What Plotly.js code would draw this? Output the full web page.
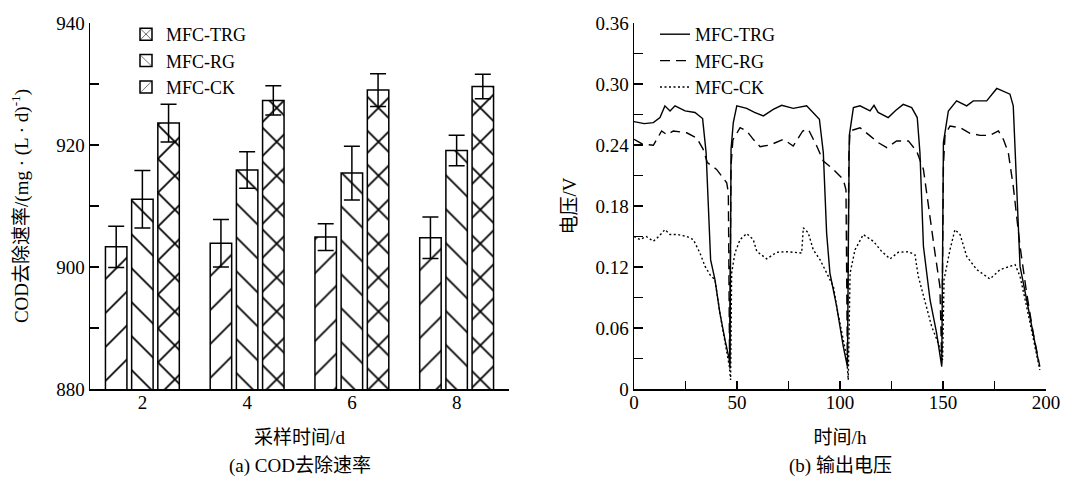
<!DOCTYPE html>
<html>
<head>
<meta charset="utf-8">
<script src="https://cdn.plot.ly/plotly-3.0.1.min.js"></script>
<style>html,body{margin:0;padding:0;background:#fff;}#chart{width:1070px;height:480px;}</style>
</head>
<body>
<div id="chart"></div>
<script>
// ---- Panel (a): COD removal rate ----
const days = [2, 4, 6, 8];
const seriesNames = ['MFC-CK', 'MFC-RG', 'MFC-TRG'];
const codCK  = [903.3, 903.9, 904.9, 904.8];
const codRG  = [911.1, 915.9, 915.4, 919.1];
const codTRG = [923.6, 927.3, 929.0, 929.6];
const errCK  = [3.4, 3.9, 2.2, 3.4];
const errRG  = [4.7, 3.0, 4.4, 2.5];
const errTRG = [3.1, 2.4, 2.7, 2.0];

// ---- Panel (b): output voltage ----
const tTRG = [0, 5, 9.4, 12.6, 15, 17.5, 19.9, 24.8, 29.6, 33.3, 35, 36.1, 37.2, 39.3, 41.7, 44.2, 46.3, 46.6, 47.1, 48.2,
  49.9, 54.7, 58.5, 62.8, 67.6, 71.7, 77.3, 83.8, 87, 90, 91.9, 93.5, 95.1, 98.4, 101.6, 103.6, 104.5, 106.5, 109.7, 114.6,
  116.5, 118.5, 123.4, 127, 130.7, 134.8, 137.5, 138.8, 140.5, 143.7, 146.9, 149.4, 150.2, 152.6, 156.6, 159, 161.5, 164.7, 171.2, 176.1,
  182.5, 184.1, 185.8, 187.4, 190.6, 193.8, 196.3];
const vTRG = [0.263, 0.261, 0.262, 0.267, 0.2785, 0.2735, 0.2785, 0.2735, 0.272, 0.266, 0.2325, 0.186, 0.127, 0.1075, 0.0747, 0.048, 0.0286, 0.020, 0.2357, 0.262,
  0.2785, 0.276, 0.272, 0.2686, 0.275, 0.279, 0.276, 0.2785, 0.272, 0.2653, 0.2325, 0.1536, 0.114, 0.081, 0.0417, 0.022, 0.249, 0.2768, 0.2785, 0.2735,
  0.279, 0.272, 0.267, 0.274, 0.280, 0.2768, 0.267, 0.2325, 0.1404, 0.0878, 0.055, 0.022, 0.2423, 0.2735, 0.2834, 0.281, 0.2785, 0.2834, 0.2834, 0.2956,
  0.29, 0.2785, 0.193, 0.1206, 0.0878, 0.055, 0.028];

const tRG = [0, 4, 9.4, 13.4, 16, 19.1, 25.6, 30.4, 33.6, 35.6, 40.1, 45, 45.8, 46.4, 47.1, 48, 51.5, 54.7, 57.9, 61.2,
  66, 72.5, 77.3, 81.9, 84.6, 88.7, 91.9, 96.8, 101.6, 102.9, 103.6, 104.3, 104.9, 109.7, 114.6, 118.6, 122.7, 127.5, 133.2, 137.2,
  140.5, 143.7, 146.1, 148.5, 149.4, 150.2, 151, 153.4, 158.3, 163.1, 168, 172.8, 176.9, 179.3, 181.7, 184.1, 187.4, 190.6, 193.8, 197];
const vRG = [0.2456, 0.241, 0.2397, 0.2538, 0.250, 0.2538, 0.252, 0.247, 0.2357, 0.2226, 0.216, 0.2029, 0.193, 0.025, 0.22, 0.245, 0.257, 0.2538, 0.2456, 0.2384,
  0.24, 0.2456, 0.239, 0.2538, 0.2555, 0.239, 0.2242, 0.216, 0.206, 0.196, 0.025, 0.23, 0.2538, 0.257, 0.249, 0.2423, 0.2374, 0.244, 0.244, 0.234,
  0.216, 0.1667, 0.1338, 0.1009, 0.025, 0.22, 0.25, 0.2587, 0.257, 0.2515, 0.2495, 0.2495, 0.2538, 0.2456, 0.2325, 0.1995, 0.1404, 0.0944, 0.055, 0.022];

const tCK = [0, 2.9, 6, 9.4, 12, 15, 17.5, 21, 25.6, 28.8, 32, 34.5, 36.9, 39.3, 41.7, 44.2, 46.3, 46.9, 47.4, 49,
  51.5, 54.7, 57.9, 59.6, 64.4, 69.3, 74.1, 81.4, 82.2, 84.6, 87, 90.3, 93.5, 96.8, 98.4, 101, 103.2, 104, 104.9, 107.3,
  111.3, 116.2, 120.2, 124.3, 128.3, 133.2, 136.4, 138, 141.3, 144.5, 147.7, 149.8, 150.5, 153.4, 155.8, 158.3, 161.5, 166.4, 172.8, 177.7,
  185, 187.4, 190.6, 193.8, 197];
const vCK = [0.150, 0.147, 0.150, 0.1453, 0.150, 0.1568, 0.152, 0.152, 0.150, 0.147, 0.1338, 0.1206, 0.1124, 0.1075, 0.0747, 0.048, 0.022, 0.0089, 0.114, 0.1338,
  0.147, 0.1529, 0.147, 0.1354, 0.128, 0.1345, 0.135, 0.1338, 0.1585, 0.1536, 0.137, 0.1272, 0.114, 0.1009, 0.081, 0.055, 0.0319, 0.0089, 0.114, 0.137,
  0.1519, 0.1453, 0.1354, 0.128, 0.1345, 0.135, 0.132, 0.1108, 0.0845, 0.0615, 0.0451, 0.0286, 0.1075, 0.137, 0.1568, 0.1519, 0.1305, 0.1174, 0.1082, 0.1174,
  0.1223, 0.1108, 0.081, 0.048, 0.0187];

const vTickVals = [0, 0.06, 0.12, 0.18, 0.24, 0.30, 0.36];
const vTickText = ['0', '0.06', '0.12', '0.18', '0.24', '0.30', '0.36'];

const FONT = 'Liberation Serif, "Times New Roman", "Noto Sans CJK SC", serif';
const FS = 19;
const LFS = 18;

function barTrace(name, y, err, shape, solidity) {
  return {
    type: 'bar', name: name, x: days, y: y,
    xaxis: 'x', yaxis: 'y', legend: 'legend',
    base: 0,
    marker: {
      color: '#ffffff',
      line: {color: '#000000', width: 1.5},
      pattern: {shape: shape, fgcolor: '#000000', bgcolor: '#ffffff', size: 24, solidity: solidity, fillmode: 'replace'}
    },
    error_y: {type: 'data', array: err, visible: true, color: '#000000', thickness: 1.5, width: 8}
  };
}

const traces = [
  barTrace(seriesNames[0], codCK, errCK, '/', 0.07),
  barTrace(seriesNames[1], codRG, errRG, '\\', 0.07),
  barTrace(seriesNames[2], codTRG, errTRG, 'x', 0.14),
  {type: 'scatter', mode: 'lines', name: 'MFC-TRG', x: tTRG, y: vTRG, xaxis: 'x2', yaxis: 'y2', legend: 'legend2',
   line: {color: '#000', width: 1.4, dash: 'solid'}},
  {type: 'scatter', mode: 'lines', name: 'MFC-RG', x: tRG, y: vRG, xaxis: 'x2', yaxis: 'y2', legend: 'legend2',
   line: {color: '#000', width: 1.4, dash: '10px,6px'}},
  {type: 'scatter', mode: 'lines', name: 'MFC-CK', x: tCK, y: vCK, xaxis: 'x2', yaxis: 'y2', legend: 'legend2',
   line: {color: '#000', width: 1.4, dash: '2px,2.5px'}}
];

const W = 1070, H = 480;
const yDom = [1 - 389 / H, 1 - 23 / H];

const axisCommon = {
  showline: true, linecolor: '#000', linewidth: 1.5, mirror: false,
  showgrid: false, zeroline: false,
  tickfont: {family: FONT, size: FS, color: '#000'},
  ticks: 'inside', ticklen: 9, tickwidth: 1.5, tickcolor: '#000'
};

const layout = {
  width: W, height: H,
  margin: {l: 0, r: 0, t: 0, b: 0},
  paper_bgcolor: '#fff', plot_bgcolor: '#fff',
  font: {family: FONT, size: FS, color: '#000'},
  barmode: 'group', bargap: 0.25, bargroupgap: 0.18,
  showlegend: true,
  xaxis: Object.assign({}, axisCommon, {
    domain: [90 / W, 509 / W], anchor: 'y', range: [1, 9],
    tickmode: 'array', tickvals: days, ticks: '', ticklabelstandoff: -4,
    title: {text: '采样时间/d', font: {family: FONT, size: FS}, standoff: 18}
  }),
  yaxis: Object.assign({}, axisCommon, {
    domain: yDom, anchor: 'x', range: [880, 940], dtick: 20, tick0: 880,
    minor: {dtick: 10, tick0: 880, ticks: 'inside', ticklen: 9, tickwidth: 1.5, tickcolor: '#000'},
    title: {text: 'COD去除速率/(mg · (L · d)<sup>-1</sup>)', font: {family: FONT, size: FS}, standoff: 22}
  }),
  xaxis2: Object.assign({}, axisCommon, {
    domain: [634 / W, 1046 / W], anchor: 'y2', range: [0, 200], dtick: 50, tick0: 0,
    ticklen: 8, ticklabelstandoff: -4,
    minor: {dtick: 25, tick0: 0, ticks: 'inside', ticklen: 8, tickwidth: 1.5, tickcolor: '#000'},
    title: {text: '时间/h', font: {family: FONT, size: FS}, standoff: 18}
  }),
  yaxis2: Object.assign({}, axisCommon, {
    domain: yDom, anchor: 'x2', range: [0, 0.36],
    tickmode: 'array', tickvals: vTickVals, ticktext: vTickText,
    minor: {tickmode: 'linear', dtick: 0.03, tick0: 0, ticks: 'inside', ticklen: 9, tickwidth: 1.5, tickcolor: '#000'},
    title: {text: '电压/V', font: {family: FONT, size: FS}, standoff: 14}
  }),
  legend: {
    x: 126 / W, y: 1 - 16 / H, xanchor: 'left', yanchor: 'top',
    traceorder: 'reversed', bgcolor: 'rgba(0,0,0,0)', borderwidth: 0,
    font: {family: FONT, size: LFS, color: '#000'}, tracegroupgap: 0
  },
  legend2: {
    x: 655 / W, y: 1 - 16 / H, xanchor: 'left', yanchor: 'top',
    traceorder: 'normal', bgcolor: 'rgba(0,0,0,0)', borderwidth: 0,
    font: {family: FONT, size: LFS, color: '#000'}
  },
  annotations: [
    {text: '(a) COD去除速率', xref: 'paper', yref: 'paper', x: 299.5 / W, y: 1 - 466 / H,
     xanchor: 'center', yanchor: 'middle', showarrow: false, font: {family: FONT, size: FS, color: '#000'}},
    {text: '(b) 输出电压', xref: 'paper', yref: 'paper', x: 840 / W, y: 1 - 466 / H,
     xanchor: 'center', yanchor: 'middle', showarrow: false, font: {family: FONT, size: FS, color: '#000'}}
  ]
};

Plotly.newPlot('chart', traces, layout, {displayModeBar: false, staticPlot: true});
</script>
</body>
</html>
